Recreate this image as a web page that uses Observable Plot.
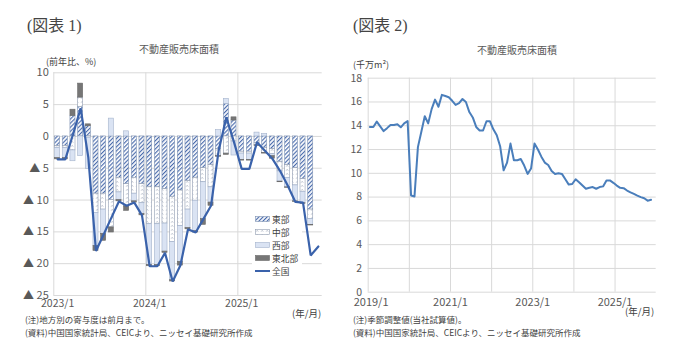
<!DOCTYPE html>
<html><head><meta charset="utf-8">
<script src="https://cdn.jsdelivr.net/npm/d3@7"></script>
<script src="https://cdn.jsdelivr.net/npm/@observablehq/plot@0.6"></script>
<style>
body{margin:0;background:#fff;}
#wrap{position:relative;width:680px;height:357px;overflow:hidden;font-family:"Noto Sans CJK JP","Noto Sans",sans-serif;color:#404040;}
.t{position:absolute;white-space:nowrap;line-height:1;}
.fig{font-family:"Liberation Serif","Noto Sans CJK JP",serif;font-size:16px;color:#444;font-weight:400;}
.title{font-size:10px;color:#595959;transform:translateX(-50%);}
.unit{font-size:9px;color:#404040;}
.note{font-size:8.5px;color:#404040;}
.ym{font-size:9.5px;color:#404040;}
.chart{position:absolute;top:0;}
#legend{position:absolute;left:252px;top:212px;width:50px;height:66px;background:#fff;}
.lg{position:absolute;left:3px;font-size:8.7px;color:#404040;display:flex;align-items:center;height:10px;}
.lg svg{margin-right:2px;}
</style></head><body>
<svg width="0" height="0" style="position:absolute">
<defs>
<pattern id="pEast" width="2.9" height="2.9" patternUnits="userSpaceOnUse" patternTransform="rotate(45)">
<rect width="2.9" height="2.9" fill="#fff"/>
<line x1="0.6" y1="0" x2="0.6" y2="2.9" stroke="#3f63a8" stroke-width="1.1"/>
</pattern>
<pattern id="pCentral" width="5" height="4" patternUnits="userSpaceOnUse">
<rect width="5" height="4" fill="#fff"/>
<path d="M1.2 2.6 L2.2 1.4 L3.2 2.6" fill="none" stroke="#98a2b4" stroke-width="0.7"/>
</pattern>
</defs></svg>
<div id="wrap">
<div class="t fig" style="left:27px;top:18px;">(図表 1)</div>
<div class="t fig" style="left:353px;top:18px;">(図表 2)</div>
<div class="t title" style="left:179px;top:44px;">不動産販売床面積</div>
<div class="t title" style="left:517px;top:45px;">不動産販売床面積</div>
<div class="t unit" style="left:46px;top:57px;">(前年比、%)</div>
<div class="t unit" style="left:353px;top:60px;">(千万m²)</div>
<div class="t ym" style="left:292px;top:309px;">(年/月)</div>
<div class="t ym" style="left:625px;top:307px;">(年/月)</div>
<div class="t note" style="left:25px;top:315px;">(注)地方別の寄与度は前月まで。</div>
<div class="t note" style="left:25px;top:327.5px;">(資料)中国国家統計局、CEICより、ニッセイ基礎研究所作成</div>
<div class="t note" style="left:353px;top:315px;">(注)季節調整値(当社試算値)。</div>
<div class="t note" style="left:353px;top:327.5px;">(資料)中国国家統計局、CEICより、ニッセイ基礎研究所作成</div>
<div id="c1" class="chart" style="left:0;"></div>
<div id="c2" class="chart" style="left:340px;"></div>
<div id="legend"></div>
</div>
<script>
// ---- Chart 1 data ----
const months1 = ["2023/1","2023/2","2023/3","2023/4","2023/5","2023/6","2023/7","2023/8","2023/9","2023/10","2023/11","2023/12",
"2024/1","2024/2","2024/3","2024/4","2024/5","2024/6","2024/7","2024/8","2024/9","2024/10","2024/11","2024/12",
"2025/1","2025/2","2025/3","2025/4","2025/5","2025/6","2025/7","2025/8","2025/9","2025/10","2025/11"];
const national = [-3.6,-3.6,0.3,4.4,-3.3,-18.0,-15.4,-12.8,-10.2,-10.9,-10.4,-12.4,
-20.4,-20.4,-18.3,-22.8,-20.3,-14.6,-15.1,-13.0,-10.9,-2.2,3.0,-0.9,
-5.1,-5.1,-0.9,-2.2,-3.5,-5.4,-7.7,-10.3,-10.4,-18.7,-17.3];
const east =      [-1.5,-1.5,3.2,4.6,1.6,-9.0,-9.0,-10.0,-6.5,-7.5,-6.5,-7.5,-8.0,-8.0,-8.3,-9.5,-8.5,-7.0,-6.5,-5.0,-4.5,-2.0,5.1,2.5,-2.4,-2.4,-1.0,-1.8,-2.0,-4.0,-4.5,-5.0,-6.7,-11.5];
const central =   [-0.3,-0.3,-2.2,1.5,-0.2,-3.0,-2.5,-4.3,-2.3,-3.5,-2.5,-3.0,-5.8,-5.8,-5.4,-7.1,-5.6,-4.5,-3.6,-2.2,-3.5,-1.1,-2.7,-0.8,-0.3,-0.3,-0.4,-0.8,-0.8,-1.5,-2.0,-2.7,-2.0,-1.5];
const west =      [-1.6,-1.6,-1.7,-3.1,-4.9,-5.2,-3.8,2.8,-1.2,0.8,-1.2,-1.7,-6.4,-6.4,-4.4,-6.0,-5.6,-2.9,-4.8,-5.8,-2.4,1.0,0.8,-2.2,-1.0,-1.0,0.6,0.4,-0.3,-1.6,-1.5,-2.5,-1.8,-0.9];
const northeast = [-0.2,-0.2,1.0,2.2,0.3,-0.8,-1.1,-0.8,-0.2,-0.7,-0.2,-0.2,-0.2,-0.2,-0.2,-0.2,-0.6,-0.2,-0.2,-0.9,-0.5,-0.1,-0.2,0.5,-0.1,-0.1,-0.1,-0.1,-0.4,-0.1,-0.1,-0.1,-0.1,-0.1];
const regionNames = ["東部","中部","西部","東北部"];
const lineName1 = "全国";
const yTicks1 = [10,5,0,-5,-10,-15,-20,-25];
const xTickLabels1 = ["2023/1","2024/1","2025/1"];

// ---- Chart 2 data ----
const start2 = "2019/1";
const floorArea = [13.9,13.9,14.35,13.95,13.55,13.8,14.07,14.07,14.12,13.87,14.2,14.4,
8.13,8.05,12.2,13.5,14.8,14.2,15.4,16.2,15.6,16.6,16.5,16.4,
16.1,15.75,15.9,16.25,16.0,15.15,14.7,13.9,13.6,13.6,14.38,14.38,
13.7,13.2,12.25,10.25,10.9,12.5,11.1,11.1,11.2,10.65,9.95,10.4,
12.5,12.0,11.4,10.9,10.7,10.2,9.95,10.0,9.95,9.5,9.05,9.1,
9.5,9.25,8.97,8.7,8.78,8.84,8.7,8.84,8.9,9.4,9.4,9.2,
8.97,8.78,8.75,8.55,8.4,8.27,8.13,8.0,7.9,7.7,7.77];
const yTicks2 = [0,2,4,6,8,10,12,14,16,18];
const xTickLabels2 = ["2019/1","2021/1","2023/1","2025/1"];
const gridYears2 = ["2019/1","2020/1","2021/1","2022/1","2023/1","2024/1","2025/1"];

// styles
const regionStyles = [
  {fill:"url(#pEast)", stroke:"#7f93b3"},
  {fill:"url(#pCentral)", stroke:"#8f9bb0"},
  {fill:"#dae3f3", stroke:"#a4b3cc"},
  {fill:"#767676", stroke:"#6a6a6a"}
];
const gridColor = "#d9d9d9";
const font = "'Noto Sans CJK JP','Noto Sans',sans-serif";

// diverging stack of regional contributions
const series = [east, central, west, northeast];
const segs = regionNames.map(() => []);
for (let i = 0; i < east.length; i++) {
  let pos = 0, neg = 0;
  series.forEach((s, k) => {
    const v = s[i];
    if (v >= 0) { segs[k].push({i, y1: pos, y2: pos + v}); pos += v; }
    else { segs[k].push({i, y1: neg, y2: neg + v}); neg += v; }
  });
}
const natData = national.map((v, i) => ({i: i + 0.5, v}));

const p1 = Plot.plot({
  width: 340, height: 357,
  marginLeft: 53.3, marginRight: 18.3, marginTop: 72.3, marginBottom: 62,
  x: {type: "linear", domain: [0, months1.length], axis: null},
  y: {domain: [-25, 10], axis: null},
  style: {fontFamily: font, fontSize: "10.5px", color: "#595959", background: "transparent", overflow: "visible"},
  marks: [
    Plot.ruleY(yTicks1, {stroke: gridColor, strokeWidth: 1}),
    Plot.ruleX(xTickLabels1.map(l => months1.indexOf(l)), {stroke: gridColor, strokeWidth: 1}),
    ...segs.map((sg, k) => Plot.rectY(sg, {
      x1: "i", x2: d => d.i + 1, y1: "y1", y2: "y2",
      insetLeft: 1.3, insetRight: 1.3,
      fill: regionStyles[k].fill, stroke: regionStyles[k].stroke, strokeWidth: 0.6
    })),
    Plot.line(natData, {x: "i", y: "v", stroke: "#3a62ab", strokeWidth: 2.2, strokeLinejoin: "miter"}),
    Plot.axisY(yTicks1, {tickSize: 0, tickPadding: 5, label: null,
      tickFormat: v => v < 0 ? "▲ " + (-v) : String(v), fontSize: 11}),
    Plot.axisX(xTickLabels1.map(l => months1.indexOf(l) + 0.5), {tickSize: 0, tickPadding: 4, label: null,
      tickFormat: i => months1[Math.floor(i)], fontSize: 10.5})
  ]
});
document.getElementById("c1").appendChild(p1);

const yearIdx = l => (+l.split("/")[0] - +start2.split("/")[0]) * 12;
const fa = floorArea.map((v, i) => ({i: i + 0.5, v}));
const p2 = Plot.plot({
  width: 340, height: 357,
  marginLeft: 27.7, marginRight: 24.3, marginTop: 77.7, marginBottom: 65.3,
  x: {type: "linear", domain: [0, 84], axis: null},
  y: {domain: [0, 18], axis: null},
  style: {fontFamily: font, fontSize: "11px", color: "#595959", background: "transparent", overflow: "visible"},
  marks: [
    Plot.ruleY(yTicks2, {stroke: gridColor, strokeWidth: 1}),
    Plot.ruleX(gridYears2.map(yearIdx), {stroke: gridColor, strokeWidth: 1}),
    Plot.line(fa, {x: "i", y: "v", stroke: "#4a7ebb", strokeWidth: 2}),
    Plot.axisY(yTicks2, {tickSize: 0, tickPadding: 6, label: null, fontSize: 10.5}),
    Plot.axisX(xTickLabels2.slice(0, 1).map(yearIdx), {tickSize: 0, tickPadding: 6, label: null,
      textAnchor: "start", dx: -14.5, tickFormat: () => xTickLabels2[0], fontSize: 11}),
    Plot.axisX(xTickLabels2.slice(1).map(yearIdx), {tickSize: 0, tickPadding: 6, label: null,
      tickFormat: i => xTickLabels2[i / 24], fontSize: 11})
  ]
});
document.getElementById("c2").appendChild(p2);

// legend
const lg = document.getElementById("legend");
const rows = regionNames.map((n, k) => ({name: n, style: regionStyles[k]})).concat([{name: lineName1, line: true}]);
rows.forEach((r, k) => {
  const div = document.createElement("div");
  div.className = "lg";
  div.style.top = (2 + k * 13.1) + "px";
  const sw = r.line
    ? `<svg width="15" height="6"><line x1="0" y1="3" x2="15" y2="3" stroke="#3a62ab" stroke-width="2"/></svg>`
    : `<svg width="15" height="6"><rect x="0.5" y="0.5" width="14" height="5" fill="${r.style.fill}" stroke="${r.style.stroke}" stroke-width="0.6"/></svg>`;
  div.innerHTML = sw + `<span>${r.name}</span>`;
  lg.appendChild(div);
});
</script>
</body></html>
